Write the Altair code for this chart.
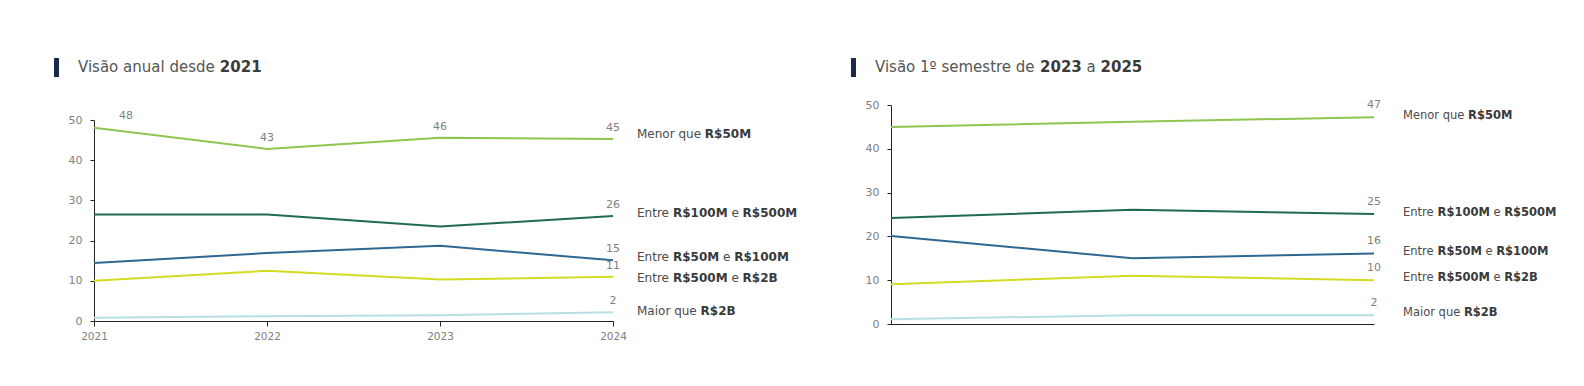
import altair as alt
import pandas as pd

FONT = "DejaVu Sans"

# ---------------- data ----------------
series = ["Menor que R$50M", "Entre R$100M e R$500M", "Entre R$50M e R$100M",
          "Entre R$500M e R$2B", "Maior que R$2B"]
colors = ["#8dc54f", "#1f6a52", "#2f6791", "#d3dc22", "#b8e0e2"]

years = ["2021", "2022", "2023", "2024"]
annual_menor50 = [48.1, 42.8, 45.6, 45.3]
annual_100_500 = [26.5, 26.5, 23.5, 26.1]
annual_50_100 = [14.4, 16.9, 18.7, 15.1]
annual_500_2b = [10.0, 12.5, 10.3, 11.0]
annual_maior2b = [0.8, 1.2, 1.4, 2.2]

semesters = ["1S 2023", "1S 2024", "1S 2025"]
sem_menor50 = [45.0, 46.2, 47.2]
sem_100_500 = [24.2, 26.1, 25.1]
sem_50_100 = [20.1, 15.0, 16.1]
sem_500_2b = [9.1, 11.0, 10.0]
sem_maior2b = [1.1, 2.0, 2.0]

# label text split into regular / bold parts
label_parts = [
    [("Menor que", False), ("R$50M", True)],
    [("Entre", False), ("R$100M", True), ("e", False), ("R$500M", True)],
    [("Entre", False), ("R$50M", True), ("e", False), ("R$100M", True)],
    [("Entre", False), ("R$500M", True), ("e", False), ("R$2B", True)],
    [("Maior que", False), ("R$2B", True)],
]
annual_label_y = [46.5, 26.9, 16.0, 10.7, 2.6]
sem_label_y = [47.5, 25.4, 16.5, 10.4, 2.6]

title_left = [("Visão anual desde", False), ("2021", True)]
title_right = [("Visão 1º semestre de", False), ("2023", True), ("a", False), ("2025", True)]

y_ticks = [0, 10, 20, 30, 40, 50]

# ---------------- text metrics (DejaVu Sans, em units) ----------------
REG = {" ": .318, "a": .613, "ã": .613, "d": .635, "e": .615, "i": .278, "l": .278,
       "m": .974, "n": .634, "o": .612, "q": .635, "r": .411, "s": .521, "t": .392,
       "u": .634, "E": .632, "M": .863, "V": .684, "1": .636, "º": .471}
BOLD = {"R": .770, "$": .696, "M": .995, "B": .765, " ": .348}
for d in "0123456789":
    BOLD[d] = .696


def tw(s, bold, size):
    tab = BOLD if bold else REG
    return sum(tab.get(c, 0.6) for c in s) * size


def seg_offsets(parts, size):
    out, x = [], 0.0
    for t, b in parts:
        out.append((t, b, x))
        x += tw(t, b, size) + REG[" "] * size
    return out


def long_df(cats, lists):
    rows = []
    for s, vals in zip(series, lists):
        for c, v in zip(cats, vals):
            rows.append({"cat": c, "series": s, "value": v})
    return pd.DataFrame(rows)


def panel(cats, lists, label_y, width, height, y_range, title_parts, show_x,
          label_dx0, label_fs, value_dy, all_top_labels, first_label_dx):
    df = long_df(cats, lists)
    x_axis = alt.Axis(title=None, labelAngle=0, labelFont=FONT, labelFontSize=10.5,
                      labelColor="#808080", tickColor="#222222", domainColor="#222222",
                      tickSize=5, labelPadding=5, grid=False) if show_x else \
        alt.Axis(title=None, labels=False, ticks=False, domainColor="#222222", grid=False)
    x = alt.X("cat:O", sort=cats, scale=alt.Scale(type="point", padding=0, domain=cats), axis=x_axis)
    y = alt.Y("value:Q", scale=alt.Scale(domain=[0, 50], range=y_range, nice=False, zero=True),
              axis=alt.Axis(title=None, values=y_ticks, labelFont=FONT, labelFontSize=11,
                            labelColor="#808080", tickColor="#222222", domainColor="#222222",
                            tickSize=4, labelPadding=8, grid=False))
    color = alt.Color("series:N", scale=alt.Scale(domain=series, range=colors), legend=None)

    layers = [alt.Chart(df).mark_line(strokeWidth=2).encode(x=x, y=y, color=color)]

    last = cats[-1]
    vl = df[df["cat"] == last]
    if all_top_labels:
        top = df[(df["series"] == series[0]) & (df["cat"] != last) & (df["cat"] != cats[0])]
        vl = pd.concat([vl, top])
        first = df[(df["series"] == series[0]) & (df["cat"] == cats[0])]
        layers.append(alt.Chart(first).mark_text(font=FONT, fontSize=11, color="#7f7f7f",
                                                 dy=value_dy - 1, dx=first_label_dx, baseline="middle")
                      .encode(x="cat:O", y="value:Q", text=alt.Text("value:Q", format=".0f")))
    layers.append(alt.Chart(vl).mark_text(font=FONT, fontSize=11, color="#7f7f7f",
                                          dy=value_dy, baseline="middle")
                  .encode(x="cat:O", y="value:Q", text=alt.Text("value:Q", format=".0f")))

    # series labels (mixed weights)
    for parts, ly in zip(label_parts, label_y):
        for t, b, off in seg_offsets(parts, label_fs):
            d = pd.DataFrame({"cat": [last], "value": [ly], "t": [t]})
            layers.append(alt.Chart(d).mark_text(font=FONT, fontSize=label_fs, align="left",
                                                 baseline="middle", dx=label_dx0 + off,
                                                 fontWeight="bold" if b else "normal",
                                                 color="#3a3a3a" if b else "#4a4a4a")
                          .encode(x="cat:O", y="value:Q", text="t:N"))

    # title bar + title
    one = pd.DataFrame({"a": [0]})
    layers.append(alt.Chart(one).mark_rect(color="#1b2a4a").encode(
        x=alt.value(-40), x2=alt.value(-35), y=alt.value(-47), y2=alt.value(-28)))
    for t, b, off in seg_offsets(title_parts, 15):
        layers.append(alt.Chart(one).mark_text(text=t, font=FONT, fontSize=15, align="left",
                                               baseline="middle", dx=off,
                                               fontWeight="bold" if b else "normal",
                                               color="#3a3a3a" if b else "#555555")
                      .encode(x=alt.value(-16), y=alt.value(-38)))
    return alt.layer(*layers).properties(width=width, height=height)


left = panel(years, [annual_menor50, annual_100_500, annual_50_100, annual_500_2b, annual_maior2b],
             annual_label_y, 519, 216, [216, 15], title_left, True, 24, 12, -11, True, 32)
right = panel(semesters, [sem_menor50, sem_100_500, sem_50_100, sem_500_2b, sem_maior2b],
              sem_label_y, 483, 219, [219, 0], title_right, False, 29, 11.5, -12, False, 0)

chart = alt.hconcat(left, right, spacing=278).properties(
    bounds="flush", padding={"left": 46, "top": 50, "right": 5, "bottom": 5},
    background="white"
).configure_view(stroke=None, strokeWidth=0)

chart.save("out.html", embed_options={"renderer": "svg", "actions": False})
